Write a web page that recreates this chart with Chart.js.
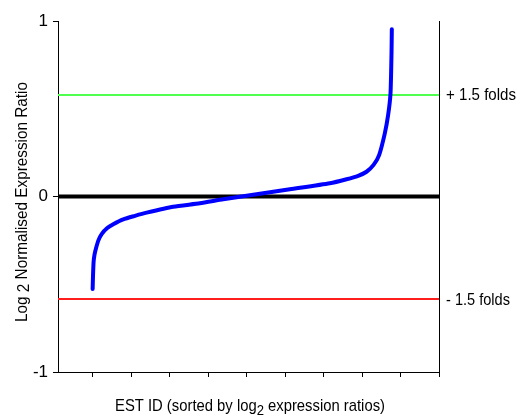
<!DOCTYPE html>
<html>
<head>
<meta charset="utf-8">
<script src="https://cdn.jsdelivr.net/npm/chart.js@4.4.1/dist/chart.umd.min.js"></script>
<style>
  body { margin: 0; background: #fff; }
  #wrap { width: 517px; height: 419px; }
</style>
</head>
<body>
<div id="wrap"><canvas id="foldChart" width="517" height="419"></canvas></div>
<script>
// EST rank position (in x tick units) and sorted log2 ratios
const estRank = [0.0, 0.01, 0.025, 0.05, 0.086, 0.15, 0.234, 0.38, 0.535, 0.795, 1.1, 1.403,
  2.094, 2.787, 3.392, 4.26, 5.125, 6.164, 6.597, 6.9, 7.117, 7.3, 7.444, 7.592, 7.678, 7.74, 7.766, 7.774];
const log2Ratio = [-0.527, -0.45, -0.372, -0.33, -0.296, -0.25, -0.214, -0.18, -0.158, -0.130, -0.11, -0.092,
  -0.058, -0.039, -0.016, 0.0125, 0.041, 0.075, 0.098, 0.118, 0.141, 0.18, 0.236, 0.36, 0.464, 0.588, 0.816, 0.953];

const yTicks = [-1, 0, 1];
const xTicks = [0, 1, 2, 3, 4, 5, 6, 7, 8, 9];
const foldThresholds = [Math.log2(1.5), -Math.log2(1.5)];
const foldLabels = ['+ 1.5 folds', '- 1.5 folds'];
const foldColors = ['rgb(80,255,80)', 'rgb(255,30,30)'];

const xMin = -0.9, xMax = 9;
const FONT = '"Liberation Sans", Arial, sans-serif';

function hLine(y) {
  return [{x: xMin, y: y}, {x: xMax, y: y}];
}

const curve = estRank.map((x, i) => ({x: x, y: log2Ratio[i]}));

// draw a run of text pieces (some subscript), squeezed to a target width
function drawPieces(ctx, pieces, x, y, align, targetW) {
  let total = 0;
  pieces.forEach(p => {
    ctx.font = p.size + 'px ' + FONT;
    p.w = ctx.measureText(p.text).width;
    total += p.w;
  });
  const sx = targetW ? targetW / total : 1;
  ctx.save();
  ctx.translate(x, y);
  ctx.scale(sx, 1);
  let cx = align === 'center' ? -total / 2 : 0;
  ctx.textAlign = 'left';
  ctx.textBaseline = 'alphabetic';
  ctx.fillStyle = '#000';
  pieces.forEach(p => {
    ctx.font = p.size + 'px ' + FONT;
    ctx.fillText(p.text, cx, p.dy || 0);
    cx += p.w;
  });
  ctx.restore();
}

// the +/- 1.5 fold lines; two rows on an even boundary so the colour survives the photo
const foldLinePlugin = {
  id: 'foldLines',
  beforeDatasetsDraw(chart) {
    const ctx = chart.ctx;
    const area = chart.chartArea;
    const yScale = chart.scales.y;
    for (let i = 0; i < foldThresholds.length; i++) {
      const py = yScale.getPixelForValue(foldThresholds[i]);
      const row = Math.round((py - 0.5) / 2) * 2;
      ctx.save();
      ctx.fillStyle = foldColors[i];
      ctx.fillRect(area.left, row, area.right - area.left, 2);
      ctx.restore();
    }
  }
};

const textPlugin = {
  id: 'texts',
  afterDraw(chart) {
    const ctx = chart.ctx;
    const yScale = chart.scales.y;

    // y axis title, rotated
    ctx.save();
    ctx.translate(27, 202);
    ctx.rotate(-Math.PI / 2);
    drawPieces(ctx, [
      {text: 'Log ', size: 17},
      {text: '2', size: 17, dy: 2},
      {text: ' Normalised Expression Ratio', size: 17}
    ], 0, 0, 'center', 240);
    ctx.restore();

    // x axis title
    drawPieces(ctx, [
      {text: 'EST ID (sorted by log', size: 17},
      {text: '2', size: 15, dy: 4},
      {text: ' expression ratios)', size: 17}
    ], 250, 411, 'center', 270);

    // fold labels on the right
    const widths = [70, 64];
    foldThresholds.forEach((t, i) => {
      const py = yScale.getPixelForValue(t);
      drawPieces(ctx, [{text: foldLabels[i], size: 17}], 446, py + 6, 'left', widths[i]);
    });
  }
};

const chart = new Chart(document.getElementById('foldChart'), {
  type: 'scatter',
  data: {
    datasets: [
      {
        label: 'log2 ratio',
        data: curve,
        showLine: true,
        borderColor: '#0000ff',
        borderWidth: 4,
        pointRadius: 0,
        borderCapStyle: 'round',
        borderJoinStyle: 'round',
        tension: 0.2,
        order: 0
      },
      {
        label: 'zero',
        data: hLine(0),
        showLine: true,
        borderColor: '#000000',
        borderWidth: 4,
        pointRadius: 0,
        order: 1
      }
    ]
  },
  options: {
    responsive: false,
    animation: false,
    layout: { padding: { top: 21, left: 0, right: 0, bottom: 0 } },
    plugins: {
      legend: { display: false },
      tooltip: { enabled: false }
    },
    scales: {
      x: {
        type: 'linear',
        min: xMin,
        max: xMax,
        afterBuildTicks: s => { s.ticks = xTicks.map(v => ({value: v})); },
        afterFit: s => { s.height = 47; },
        grid: { drawOnChartArea: false, tickLength: 5, color: '#000', tickColor: '#000' },
        border: { display: true, color: '#000', width: 1 },
        ticks: { callback: () => '', padding: 0 }
      },
      y: {
        min: -1,
        max: 1,
        afterBuildTicks: s => { s.ticks = yTicks.map(v => ({value: v})); },
        afterFit: s => { s.width = 58; },
        grid: { drawOnChartArea: false, tickLength: 5, color: '#000', tickColor: '#000' },
        border: { display: true, color: '#000', width: 1 },
        ticks: { color: '#000', font: { family: FONT, size: 17 }, padding: 5 }
      },
      y2: {
        position: 'right',
        min: -1,
        max: 1,
        afterFit: s => { s.width = 78; },
        grid: { display: false },
        border: { display: true, color: '#000', width: 1 },
        ticks: { display: false }
      }
    }
  },
  plugins: [foldLinePlugin, textPlugin]
});
</script>
</body>
</html>
